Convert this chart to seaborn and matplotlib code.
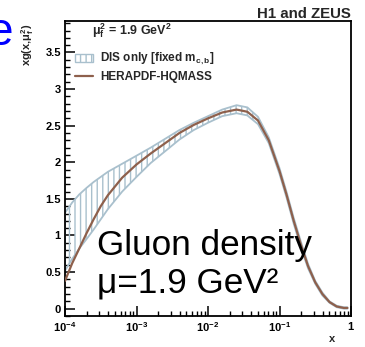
import numpy as np
import pandas as pd
import seaborn as sns
import matplotlib
matplotlib.use("Agg")
import matplotlib.pyplot as plt
from matplotlib.patches import Patch
from matplotlib.lines import Line2D
from matplotlib.ticker import LogLocator, MultipleLocator, FuncFormatter, FixedLocator

# ---- data ----
x_vals = [1.00e-4, 1.26e-4, 1.58e-4, 2.00e-4, 2.51e-4, 3.16e-4, 3.98e-4, 6.31e-4,
          1.00e-3, 1.58e-3, 2.51e-3, 3.98e-3, 6.31e-3, 1.00e-2, 1.58e-2, 2.51e-2,
          3.55e-2, 5.01e-2, 7.08e-2, 0.100, 0.126, 0.158, 0.200, 0.251, 0.316,
          0.398, 0.501, 0.631, 0.794, 0.891]
herapdf = [0.38, 0.62, 0.82, 1.03, 1.22, 1.40, 1.55, 1.79,
           1.97, 2.12, 2.26, 2.40, 2.51, 2.60, 2.68, 2.72,
           2.69, 2.57, 2.30, 1.88, 1.55, 1.20, 0.87, 0.58, 0.36,
           0.20, 0.09, 0.03, 0.01, 0.01]
dis_upper = [1.31, 1.45, 1.56, 1.65, 1.73, 1.80, 1.87, 1.98,
             2.09, 2.20, 2.32, 2.44, 2.54, 2.63, 2.72, 2.78,
             2.75, 2.62, 2.34, 1.92, 1.59, 1.24, 0.91, 0.61, 0.38,
             0.22, 0.10, 0.04, 0.02, 0.02]
dis_lower = [0.52, 0.68, 0.82, 0.95, 1.08, 1.22, 1.36, 1.60,
             1.80, 1.99, 2.15, 2.31, 2.44, 2.54, 2.63, 2.67,
             2.64, 2.52, 2.26, 1.84, 1.51, 1.16, 0.83, 0.55, 0.34,
             0.18, 0.08, 0.02, 0.00, 0.00]
y_ticks = [0, 0.5, 1, 1.5, 2, 2.5, 3, 3.5]
x_ticks = [1e-4, 1e-3, 1e-2, 1e-1, 1]
x_ticklabels = [r"$\mathbf{10^{-4}}$", r"$\mathbf{10^{-3}}$", r"$\mathbf{10^{-2}}$",
                r"$\mathbf{10^{-1}}$", r"$\mathbf{1}$"]

df = pd.DataFrame({"x": x_vals, "central": herapdf, "up": dis_upper, "lo": dis_lower})

sns.set_theme(style="white")
plt.rcParams["font.family"] = ["Liberation Sans", "DejaVu Sans"]
plt.rcParams["mathtext.fontset"] = "custom"
plt.rcParams["mathtext.rm"] = "Liberation Sans"
plt.rcParams["mathtext.it"] = "Liberation Sans:italic"
plt.rcParams["mathtext.bf"] = "Liberation Sans:bold"
plt.rcParams["hatch.linewidth"] = 1.0

band_col = "#a9c0cd"
line_col = "#8e604c"

fig = plt.figure(figsize=(3.65, 3.47), dpi=100)
fig.patch.set_facecolor("white")
ax = fig.add_axes([65/365, 1 - 316/347, 286/365, 295/347])

ax.fill_between(df["x"], df["lo"], df["up"], facecolor="none", edgecolor=band_col,
                hatch="|||", linewidth=1.3, zorder=2)
sns.lineplot(data=df, x="x", y="central", ax=ax, color=line_col, linewidth=1.6,
             zorder=3, legend=False)

ax.set_xscale("log")
ax.set_xlim(1e-4, 1)
ax.set_ylim(-0.1, 3.93)
ax.set_xlabel("")
ax.set_ylabel("")

for s in ax.spines.values():
    s.set_color("black")
    s.set_linewidth(1.3)

ax.xaxis.set_major_locator(FixedLocator(x_ticks))
ax.set_xticklabels(x_ticklabels)
ax.xaxis.set_minor_locator(LogLocator(base=10, subs=np.arange(2, 10)))
ax.yaxis.set_major_locator(FixedLocator(y_ticks))
ax.yaxis.set_major_formatter(FuncFormatter(lambda v, p: f"{v:g}"))
ax.yaxis.set_minor_locator(MultipleLocator(0.1))
ax.tick_params(axis="both", which="major", direction="in", length=7, width=1.1,
               labelsize=8, colors="black", pad=3)
ax.tick_params(axis="both", which="minor", direction="in", length=3.5, width=1.0,
               colors="black")
ax.tick_params(top=False, right=False, bottom=True, left=True)
ax.tick_params(which="minor", top=False, right=False, bottom=True, left=True)
for lab in ax.get_yticklabels():
    lab.set_fontweight("bold")

ax.text(-0.13, 0.919, r"xg(x,$\mathbf{\mu_f^2}$)", transform=ax.transAxes, rotation=90,
        ha="center", va="center", fontsize=8, fontweight="bold")
ax.text(0.934, -0.062, "x", transform=ax.transAxes, ha="center", va="top",
        fontsize=8, fontweight="bold")

fig.text(351/365, 1 - 18/347, "H1 and ZEUS", ha="right", va="baseline",
         fontsize=10.8, fontweight="bold")
fig.text(92/365, 1 - 35/347, r"$\mathbf{\mu_f^2}$ = 1.9 GeV$\mathbf{^2}$", ha="left",
         va="baseline", fontsize=9, fontweight="bold")

handles = [Patch(facecolor="white", edgecolor=band_col, hatch="|||", linewidth=1.0),
           Line2D([0], [0], color=line_col, linewidth=1.6)]
labels = [r"DIS only [fixed m$\mathbf{_{c,b}}$]", "HERAPDF-HQMASS"]
leg = ax.legend(handles, labels, loc="upper left", bbox_to_anchor=(0.035, 0.898),
                frameon=False, handlelength=1.5, handletextpad=0.6,
                labelspacing=0.36, borderpad=0, borderaxespad=0,
                prop={"weight": "bold", "size": 8.5})

fig.text(97/365, 1 - 255/347, "Gluon density", ha="left", va="baseline",
         fontsize=25.3, color="black")
fig.text(97/365, 1 - 294/347, "μ=1.9 GeV²", ha="left", va="baseline",
         fontsize=25.3, color="black")
fig.text(14/365, 1 - 45/347, "e", ha="right", va="baseline", fontsize=33,
         color="#0000ff")

fig.savefig("out.png", dpi=100, facecolor="white")
